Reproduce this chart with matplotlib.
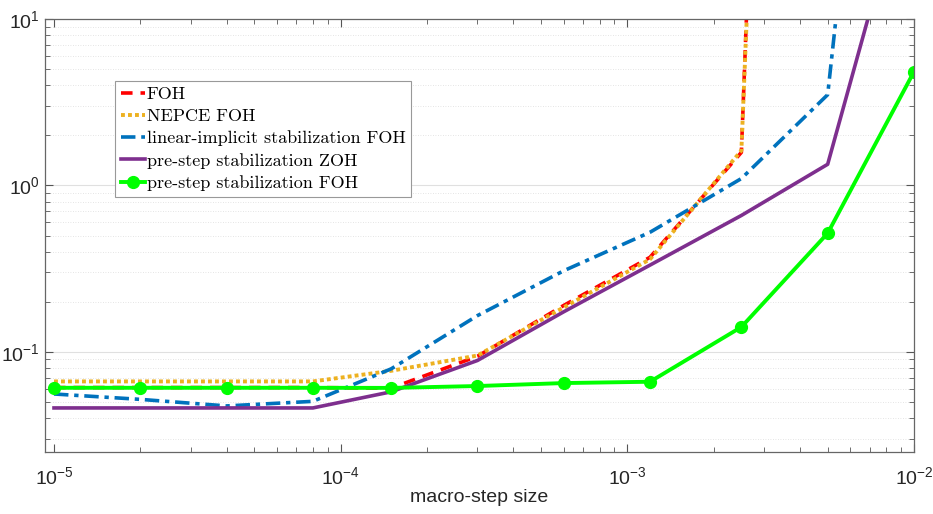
import matplotlib
matplotlib.use("Agg")
import matplotlib.pyplot as plt
from matplotlib.ticker import LogLocator, NullFormatter

# ── Data ──────────────────────────────────────────────────
step_size = [1e-5, 2e-5, 4e-5, 8e-5, 1.5e-4, 3e-4, 6e-4, 1.2e-3, 2.5e-3, 5e-3, 1e-2]

foh        = [0.061, 0.061, 0.061, 0.061, 0.0605, 0.094, 0.19, 0.37, 1.58, 1e14, 1e15]
nepce_foh  = [0.0664, 0.0664, 0.0664, 0.0664, 0.0769, 0.095, 0.185, 0.36, 1.62, 1e13, 1e14]
lin_impl   = [0.0558, 0.0518, 0.0473, 0.0504, 0.079, 0.165, 0.307, 0.523, 1.10, 3.51, 2e5]
pre_zoh    = [0.046, 0.046, 0.046, 0.046, 0.0575, 0.0887, 0.174, 0.332, 0.66, 1.34, 100]
pre_foh    = [0.0608, 0.0608, 0.0608, 0.0608, 0.0607, 0.0623, 0.0649, 0.0661, 0.141, 0.516, 4.82]

labels = ["FOH", "NEPCE FOH", "linear-implicit stabilization FOH",
          "pre-step stabilization ZOH", "pre-step stabilization FOH"]

# ── Style ─────────────────────────────────────────────────
plt.rcParams["font.family"] = ["Liberation Sans", "DejaVu Sans"]
plt.rcParams["mathtext.fontset"] = "custom"
plt.rcParams["mathtext.rm"] = "Liberation Sans"
plt.rcParams["mathtext.it"] = "Liberation Sans:italic"
plt.rcParams["axes.formatter.use_mathtext"] = True

fig = plt.figure(figsize=(9.33, 5.14), dpi=100)
ax = fig.add_axes([0.0482, 0.1206, 0.9314, 0.8424])

ax.plot(step_size, foh, color="#FF0000", ls=(0, (3.2, 2.2)), lw=2.6, label=labels[0])
ax.plot(step_size, nepce_foh, color="#EDB120", ls=(0, (1.0, 0.8)), lw=2.8, label=labels[1])
ax.plot(step_size, lin_impl, color="#0072BD", ls=(0, (4.0, 1.6, 1.2, 1.6)), lw=2.6, label=labels[2])
ax.plot(step_size, pre_zoh, color="#7E2F8E", ls="-", lw=2.6, label=labels[3])
ax.plot(step_size, pre_foh, color="#00FF00", ls="-", lw=2.8, marker="o", ms=8.5,
        label=labels[4])

ax.set_xscale("log")
ax.set_yscale("log")
ax.set_xlim(9.3e-6, 1e-2)
ax.set_ylim(0.025, 10)

ax.xaxis.set_major_locator(LogLocator(base=10, numticks=10))
ax.xaxis.set_minor_locator(LogLocator(base=10, subs=range(2, 10), numticks=20))
ax.xaxis.set_minor_formatter(NullFormatter())
ax.yaxis.set_major_locator(LogLocator(base=10, numticks=10))
ax.yaxis.set_minor_locator(LogLocator(base=10, subs=range(2, 10), numticks=20))
ax.yaxis.set_minor_formatter(NullFormatter())

ax.tick_params(which="both", direction="in", top=True, right=True, colors="#555555",
               labelcolor="#262626", labelsize=14)
ax.tick_params(which="major", length=6, width=0.8)
ax.tick_params(which="minor", length=3.5, width=0.6)
ax.tick_params(axis="x", which="major", pad=10)

ax.yaxis.grid(True, which="major", color="#e0e0e0", lw=0.8, ls="-")
ax.yaxis.grid(True, which="minor", color="#dcdcdc", lw=0.6, ls=(0, (1, 2)))
ax.set_axisbelow(True)
for s in ax.spines.values():
    s.set_color("#666666")
    s.set_linewidth(0.9)

ax.set_xlabel("macro-step size", fontsize=14, color="#262626", labelpad=1)

leg = ax.legend(loc="upper left", bbox_to_anchor=(0.081, 0.857), prop={"family": "cmr10", "size": 13},
                handlelength=1.35, handletextpad=0.1, borderpad=0.3, labelspacing=0.36,
                fancybox=False, framealpha=1, edgecolor="#999999", borderaxespad=0)
leg.get_frame().set_linewidth(0.8)

fig.savefig("out.png", dpi=100)
